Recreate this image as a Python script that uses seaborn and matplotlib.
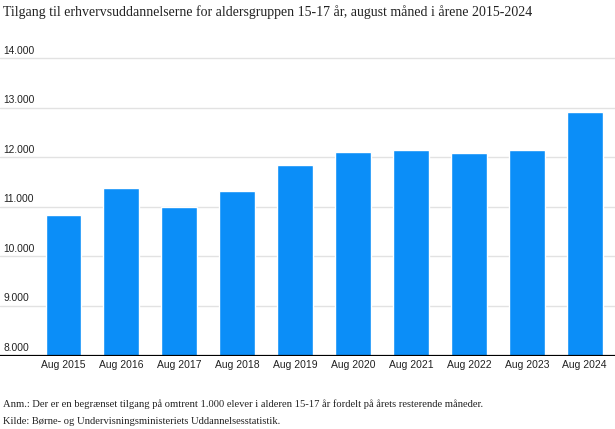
import matplotlib
matplotlib.use("Agg")
import matplotlib.pyplot as plt
import matplotlib.transforms as mtransforms
import pandas as pd
import seaborn as sns

# Data
years = ["Aug 2015", "Aug 2016", "Aug 2017", "Aug 2018", "Aug 2019",
         "Aug 2020", "Aug 2021", "Aug 2022", "Aug 2023", "Aug 2024"]
tilgang = [10846, 11385, 10988, 11318, 11848, 12114, 12149, 12088, 12149, 12918]
y_ticks = [9000, 10000, 11000, 12000, 13000, 14000]
y_tick_labels = ["9.000", "10.000", "11.000", "12.000", "13.000", "14.000"]

title = "Tilgang til erhvervsuddannelserne for aldersgruppen 15-17 år, august måned i årene 2015-2024"
note = ("Anm.: Der er en begrænset tilgang på omtrent 1.000 elever i alderen 15-17 år "
        "fordelt på årets resterende måneder.")
source = "Kilde: Børne- og Undervisningsministeriets Uddannelsesstatistik."

bar_color = "#0b8ef8"
grid_color = "#e2e2e2"

sns.set_theme(style="white")
plt.rcParams["font.family"] = ["Liberation Sans", "DejaVu Sans"]

df = pd.DataFrame({"Aar": years, "Tilgang": tilgang})

fig = plt.figure(figsize=(6.15, 4.29), dpi=100)
ax = fig.add_axes([0.0, 0.1713, 1.0, 0.739])

sns.barplot(data=df, x="Aar", y="Tilgang", color=bar_color, saturation=1,
            width=0.62, ax=ax, zorder=3)

ax.set_ylim(8000, 14400)
ax.set_xlim(-1.097, 9.523)

# gridlines
for v in y_ticks:
    ax.axhline(v, color=grid_color, lw=1, zorder=1)
ax.axhline(8000, color="black", lw=1.6, zorder=4)

# y labels sit above the gridlines at the far left
trans = mtransforms.blended_transform_factory(ax.transAxes, ax.transData)
offset = mtransforms.ScaledTranslation(3 / 100, 2.5 / 100, fig.dpi_scale_trans)
for v, lab in zip([8000] + y_ticks, ["8.000"] + y_tick_labels):
    ax.text(0, v, lab, transform=trans + offset, ha="left", va="bottom",
            fontsize=7.4, color="#222222")

ax.set_yticks([])
ax.set_xlabel("")
ax.set_ylabel("")
ax.tick_params(axis="x", length=0, pad=3.5, labelsize=7.5, labelcolor="#222222")
for s in ax.spines.values():
    s.set_visible(False)

fig.text(3 / 615, 1 - 12 / 429, title, ha="left", va="center",
         fontsize=10, family="Liberation Serif", color="#222222")
fig.text(3 / 615, 1 - 404 / 429, note, ha="left", va="center",
         fontsize=7.6, family="Liberation Serif", color="#222222")
fig.text(3 / 615, 1 - 421 / 429, source, ha="left", va="center",
         fontsize=7.6, family="Liberation Serif", color="#222222")

fig.savefig("out.png", dpi=100)
